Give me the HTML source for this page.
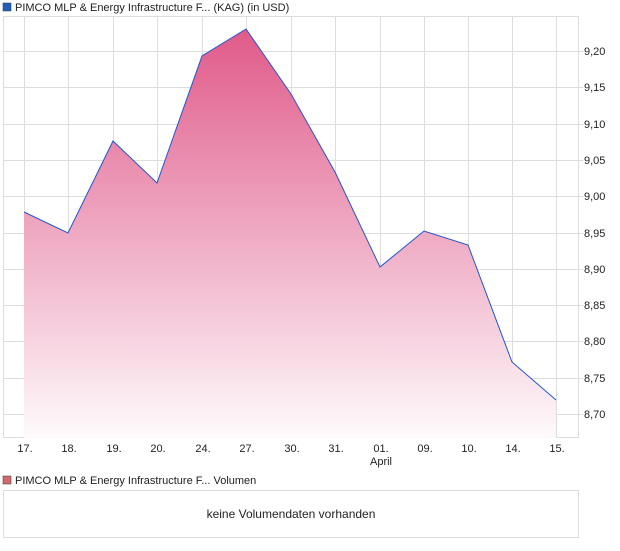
<!DOCTYPE html>
<html><head><meta charset="utf-8"><style>
body{margin:0;background:#fff;width:620px;height:546px;overflow:hidden;font-family:"Liberation Sans",Arial,sans-serif;}
</style></head><body>
<svg width="620" height="546" xmlns="http://www.w3.org/2000/svg" font-family="Liberation Sans, Arial, sans-serif" font-size="11" fill="#222">
<defs><linearGradient id="g" x1="0" y1="29" x2="0" y2="438" gradientUnits="userSpaceOnUse">
<stop offset="0" stop-color="#e05a8a"/><stop offset="1" stop-color="#fefafc"/></linearGradient></defs>
<rect x="3" y="3" width="8" height="8" fill="#1f5fbf" stroke="#333" stroke-width="0.5"/>
<text x="15" y="11">PIMCO MLP &amp; Energy Infrastructure F... (KAG) (in USD)</text>
<rect x="3.5" y="16.5" width="575" height="421" fill="none" stroke="#ddd"/>
<g stroke="#ddd" stroke-width="1">
<line x1="24.5" y1="17" x2="24.5" y2="438"/><line x1="68.5" y1="17" x2="68.5" y2="438"/><line x1="113.5" y1="17" x2="113.5" y2="438"/><line x1="157.5" y1="17" x2="157.5" y2="438"/><line x1="202.5" y1="17" x2="202.5" y2="438"/><line x1="246.5" y1="17" x2="246.5" y2="438"/><line x1="291.5" y1="17" x2="291.5" y2="438"/><line x1="335.5" y1="17" x2="335.5" y2="438"/><line x1="380.5" y1="17" x2="380.5" y2="438"/><line x1="424.5" y1="17" x2="424.5" y2="438"/><line x1="468.5" y1="17" x2="468.5" y2="438"/><line x1="512.5" y1="17" x2="512.5" y2="438"/><line x1="556.5" y1="17" x2="556.5" y2="438"/>
<line x1="3" y1="51.5" x2="583" y2="51.5"/><line x1="3" y1="87.5" x2="583" y2="87.5"/><line x1="3" y1="124.5" x2="583" y2="124.5"/><line x1="3" y1="160.5" x2="583" y2="160.5"/><line x1="3" y1="196.5" x2="583" y2="196.5"/><line x1="3" y1="233.5" x2="583" y2="233.5"/><line x1="3" y1="269.5" x2="583" y2="269.5"/><line x1="3" y1="305.5" x2="583" y2="305.5"/><line x1="3" y1="341.5" x2="583" y2="341.5"/><line x1="3" y1="378.5" x2="583" y2="378.5"/><line x1="3" y1="414.5" x2="583" y2="414.5"/>
</g>
<polygon fill="url(#g)" points="24,212 68,233 113,141 157,183 202,56 246,29 291,94 335,172 380,267 424,231 468,245 512,362 556,400 556,438 24,438"/>
<polyline fill="none" stroke="#2255cc" stroke-width="1" points="24,212 68,233 113,141 157,183 202,56 246,29 291,94 335,172 380,267 424,231 468,245 512,362 556,400"/>
<g>
<text x="584" y="55">9,20</text><text x="584" y="91">9,15</text><text x="584" y="128">9,10</text><text x="584" y="164">9,05</text><text x="584" y="200">9,00</text><text x="584" y="237">8,95</text><text x="584" y="273">8,90</text><text x="584" y="309">8,85</text><text x="584" y="345">8,80</text><text x="584" y="382">8,75</text><text x="584" y="418">8,70</text>
</g>
<g text-anchor="middle">
<text x="25" y="452">17.</text><text x="69" y="452">18.</text><text x="114" y="452">19.</text><text x="158" y="452">20.</text><text x="203" y="452">24.</text><text x="247" y="452">27.</text><text x="292" y="452">30.</text><text x="336" y="452">31.</text><text x="381" y="452">01.</text><text x="425" y="452">09.</text><text x="469" y="452">10.</text><text x="513" y="452">14.</text><text x="557" y="452">15.</text>
<text x="381" y="465">April</text>
</g>
<rect x="3" y="476" width="8" height="8" fill="#d46a6a" stroke="#333" stroke-width="0.5"/>
<text x="15" y="484">PIMCO MLP &amp; Energy Infrastructure F... Volumen</text>
<rect x="3.5" y="490.5" width="575" height="47" fill="none" stroke="#ddd"/>
<text x="291" y="518" text-anchor="middle" font-size="12">keine Volumendaten vorhanden</text>
</svg>
</body></html>
